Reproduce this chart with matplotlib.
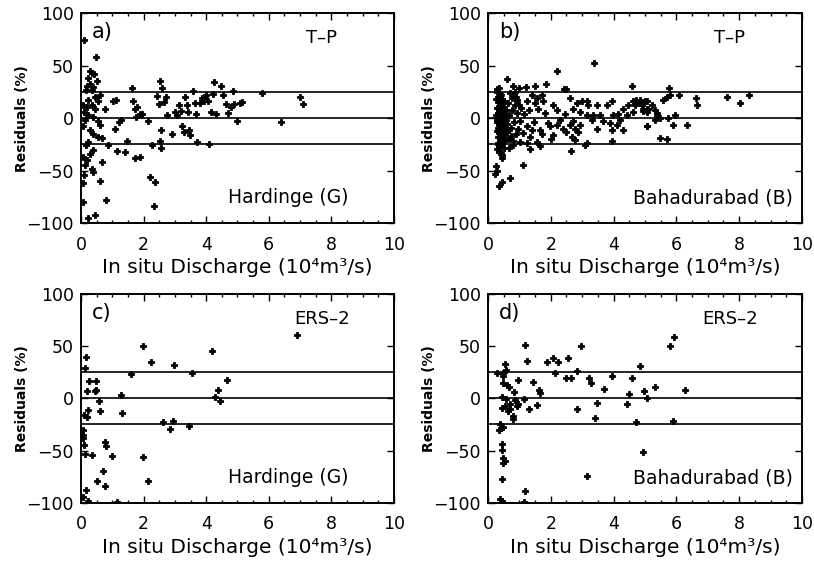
import matplotlib
matplotlib.use('Agg')
import matplotlib.pyplot as plt
from matplotlib.ticker import MultipleLocator

# ---- data: (in situ discharge [10^4 m3/s], residual [%]) ----
a_x = [0.10, 0.48, 0.29, 0.36, 0.43, 0.23, 0.52, 0.18, 0.29, 0.39, 0.16, 0.34, 0.61,
       0.45, 0.23, 0.55, 0.07, 0.18, 0.34, 0.45, 0.10, 0.23, 0.39, 0.13, 0.55, 0.61,
       0.07, 0.29, 0.39, 0.55, 0.66, 0.23, 0.16, 0.39, 0.29, 0.07, 0.18, 0.13, 0.34,
       0.39, 0.10, 0.66, 0.61, 0.07, 0.80, 0.07, 0.21, 0.45,
       0.76, 0.87, 1.03, 1.12, 1.09, 1.22, 1.28, 1.16, 1.41, 1.46, 1.62, 1.65, 1.72,
       1.80, 1.88, 1.75, 1.94, 1.72, 1.88, 2.15, 2.20, 2.36, 2.34, 2.26, 2.42, 2.49,
       2.52, 2.59, 2.55, 2.52, 2.55, 2.66, 2.72, 2.74, 2.90, 3.00, 3.06, 3.14, 3.18,
       3.22, 3.32, 3.29, 3.40, 3.45, 3.48, 3.43, 3.59, 3.64, 3.67, 3.70, 3.80, 3.86,
       3.93, 3.96, 4.01, 4.10, 4.07, 4.14, 4.23, 4.25, 4.31, 4.46, 4.55, 4.63, 4.70,
       4.78, 4.87, 4.89, 5.08, 5.13, 4.97, 5.77, 6.38, 7.00, 7.10]
a_y = [74, 58, 45, 43, 42, 38, 35, 31, 32, 30, 27, 27, 22,
       20, 17, 16, 12, 11, 12, 9, 6, 3, 1, -2, -3, -7,
       -8, -11, -15, -18, -19, -23, -26, -30, -34, -37, -40, -45, -48,
       -51, -54, -42, -60, -62, -78, -80, -95, -92,
       9, -26, 16, 17, -10, -4, -2, -31, -32, -22, 29, 16, 9,
       11, 4, 1, 4, -38, -37, -3, -56, -61, -84, -26, 21, 13,
       35, 29, -11, -22, -28, 15, 20, 3, -15, 6, 3, 12, 7,
       -8, 20, -13, 12, -11, -16, 6, 26, 14, 4, -23, 14, 19,
       16, 19, 22, -25, 16, 6, 23, 34, 4, 31, 22, 13, 5,
       11, 26, 13, 14, 15, -3, 23.5, -4, 20, 13]

b_x = [0.35, 0.59, 0.81, 0.99, 1.21, 1.50, 1.84, 2.19, 2.42, 2.50, 3.38, 4.58,
       1.13, 0.70, 0.30, 0.25, 0.36, 0.44, 0.22, 0.44, 0.36, 0.28,
       0.81, 0.91, 0.98, 1.23, 1.39, 1.55, 1.71, 1.76, 1.60, 2.08, 1.02, 1.23, 1.39,
       1.66, 1.71, 1.57, 1.66, 1.34, 1.23, 1.02, 0.81, 0.70, 0.59, 2.08, 1.97, 2.20,
       2.45, 2.61, 2.72, 2.82, 2.98, 3.14, 3.20, 2.39, 2.50, 2.61, 2.72, 2.77, 2.66,
       2.77, 2.88, 2.93, 2.63, 3.09, 3.14, 3.30, 3.46, 3.57, 3.67, 3.78, 3.89, 3.94,
       3.99, 3.94, 3.94, 4.15, 4.31, 4.42, 4.31, 4.47, 4.63, 4.68, 4.73, 4.84, 4.95,
       5.00, 5.05, 5.05, 5.21, 5.37, 5.10, 4.63, 4.20, 4.10, 3.46, 3.35, 3.14, 2.93,
       4.84, 5.05, 4.89, 4.95, 5.05, 5.32, 5.37, 5.05, 5.32, 5.48, 5.58, 5.69, 5.78,
       5.80, 6.09, 5.74, 5.96, 5.90, 6.35, 5.48, 5.69, 6.62, 6.66, 7.62, 8.02, 8.32,
       0.30, 0.35, 0.40, 0.45, 0.33, 0.38, 0.42, 0.50, 0.28, 0.36, 0.44, 0.52, 0.31,
       0.39, 0.47, 0.55, 0.34, 0.41, 0.49, 0.57, 0.30, 0.37, 0.45, 0.53, 0.32, 0.40,
       0.48, 0.56, 0.35, 0.43, 0.51, 0.60, 0.33, 0.41, 0.47, 0.38, 0.45, 0.54, 0.36,
       0.42, 0.50, 0.40, 0.46, 0.30, 0.27, 0.26, 0.28, 0.32, 0.58, 0.62, 0.65, 0.68,
       0.72, 0.75, 0.78, 0.82, 0.86, 0.88, 0.92, 0.95, 0.70, 0.63, 0.66, 0.74, 0.80,
       0.85, 0.90, 1.05, 1.10, 1.15, 1.30, 1.45, 1.50, 1.35, 1.80, 1.90, 2.00, 2.20,
       2.30, 0.31, 0.37, 0.43, 0.29, 0.34, 0.39, 0.46, 0.52, 0.33, 0.38, 0.44, 0.49]
b_y = [29, 37, 31, 29, 30, 31, 32, 45, 28, 28, 52, 31,
       -45, -57, -50, -46, -65, -61, -53, -38, -32, -29,
       22, 17, 12, 16, 22, 19, 22, 16, 9, 12, -3, -8, -11,
       -11, -15, -23, -27, -29, -24, -23, -26, -19, -13, -16, -8, -7,
       4, 19, 9, 14, 16, 16, 12, -10, -13, -7, -3, -10, -18,
       -21, -13, -7, -31, -26, -24, -2, 12, 3, -3, 12, -5, 16,
       3, -11, -22, 4, 9, 3, -11, 12, 16, 12, 17, 14, 9,
       16, 6, -8, 12, 3, 9, 6, -2, -7, -10, 3, 3, 6,
       17, 16, 12, 7, 9, 8, 5, -8, -2, 0, 17, 20, 29,
       22, 22, 0, 3, -7, -7, -19, -20, 19, 12, 20, 14, 22,
       25, 20, 22, 18, 15, 12, 14, 16, 10, 8, 9, 11, 5,
       4, 6, 3, 1, -1, 0, -2, -4, -5, -6, -4, -9, -10,
       -8, -11, -14, -13, -15, -13, -18, -19, -17, -22, -24, -21, -27,
       -26, -28, -33, -35, 28, 18, 3, -12, -24, 8, -6, 14, 3,
       -9, 19, 8, -4, 12, -15, 5, -10, 24, -20, -28, -17, -22,
       25, 20, 10, -14, 4, 8, -4, 14, -18, 5, -5, -20, 8,
       -2, 20, 17, 10, -2, -7, -15, 2, -20, -25, 23, -16, -3]

c_x = [0.15, 0.13, 0.27, 0.47, 0.20, 0.45, 0.48, 0.59, 0.23, 0.61, 0.10, 0.20,
       0.07, 0.05, 0.07, 0.10, 0.13, 0.34, 0.77, 0.79, 0.70, 0.50, 0.77, 0.16,
       0.05, 0.23, 1.14, 0.98, 1.27, 1.30, 1.59, 1.99, 1.99, 2.14, 2.24, 2.61,
       2.84, 2.93, 2.98, 3.45, 3.55, 4.17, 4.28, 4.37, 4.44, 4.68, 6.91]
c_y = [40, 29, 17, 17, 7, 7, 8, -3, -11, -12, -16, -18,
       -30, -35, -38, -45, -53, -54, -42, -46, -70, -79, -84, -88,
       -94, -98, -99, -55, 3, -14, 23, 50, -56, -79, 35, -23,
       -29, -22, 32, -26, 24, 45, 1, 8, -3, 18, 61]

d_x = [0.30, 0.47, 0.54, 0.57, 0.49, 0.49, 0.59, 0.68, 0.46, 0.57, 0.44, 0.54,
       0.63, 0.70, 0.79, 0.79, 0.70, 0.83, 0.86, 0.91, 0.97, 0.97, 1.15, 1.18,
       1.23, 1.31, 1.42, 1.57, 1.63, 1.66, 1.89, 2.08, 2.13, 2.23, 2.48, 2.54,
       2.63, 2.82, 2.84, 2.95, 3.16, 3.23, 3.27, 3.41, 3.46, 3.69, 3.94, 4.42,
       4.50, 4.59, 4.71, 4.84, 4.95, 4.98, 5.07, 5.32, 0.38, 0.41, 0.36, 0.47,
       0.44, 0.44, 0.49, 0.47, 0.54, 0.44, 0.38, 0.44, 1.18, 1.15, 5.80, 5.92,
       5.88, 6.26]
d_y = [24, 24, 33, 27, 21, 15, 13, 11, 1, -1, -9, -7,
       -12, -10, -17, -20, -5, 6, -2, -7, -5, 18, -1, 51,
       36, -10, 16, -6, 8, 5, 35, 39, 24, 35, 19, 39,
       19, 26, -10, 50, -74, 19, 15, -19, -4, 9, 21, -5,
       4, 19, -23, 31, -51, 7, 0, 11, -25, -28, -30, -27,
       -44, -49, -57, -62, -60, -77, -96, -98, -89, -99, 50, 59,
       -22, 8]

panels = [
    (a_x, a_y, 'a)', 'T\u2013P', 'Hardinge (G)', [0.0995, 0.605, 0.3845, 0.372]),
    (b_x, b_y, 'b)', 'T\u2013P', 'Bahadurabad (B)', [0.5995, 0.605, 0.3857, 0.372]),
    (c_x, c_y, 'c)', 'ERS\u20132', 'Hardinge (G)', [0.0995, 0.110, 0.3845, 0.370]),
    (d_x, d_y, 'd)', 'ERS\u20132', 'Bahadurabad (B)', [0.5995, 0.110, 0.3857, 0.370]),
]

fig = plt.figure(figsize=(8.14, 5.65), dpi=100)
plt.rcParams['font.family'] = 'DejaVu Sans'

for x, y, tag, sensor, station, pos in panels:
    ax = fig.add_axes(pos)
    ax.plot(x, y, 'P', color='black', markersize=5, markeredgewidth=0.6)
    for h in (-25, 0, 25):
        ax.axhline(h, color='black', linewidth=1.2)
    ax.set_xlim(0, 10)
    ax.set_ylim(-100, 100)
    ax.xaxis.set_major_locator(MultipleLocator(2))
    ax.xaxis.set_minor_locator(MultipleLocator(0.5))
    ax.yaxis.set_major_locator(MultipleLocator(50))
    ax.tick_params(which='both', direction='in', top=True, right=True,
                   width=1.0, labelsize=12.5)
    ax.tick_params(which='major', length=5)
    ax.tick_params(which='minor', length=2.5)
    ax.tick_params(axis='x', pad=9)
    ax.tick_params(axis='y', pad=5)
    for s in ax.spines.values():
        s.set_linewidth(1.4)
    ax.set_xlabel('In situ Discharge (10\u2074m\u00b3/s)', fontsize=14.5, labelpad=3)
    ax.set_ylabel('Residuals (%)', fontsize=10, fontweight='bold', labelpad=-2)
    ax.text(0.035, 0.91, tag, transform=ax.transAxes, fontsize=15,
            ha='left', va='center')
    ax.text(0.77, 0.88, sensor, transform=ax.transAxes, fontsize=13,
            ha='center', va='center')
    right = 0.855 if 'Hardinge' in station else 0.972
    ax.text(right, 0.12, station, transform=ax.transAxes, fontsize=13.5,
            ha='right', va='center')

fig.savefig('out.png', dpi=100, facecolor='white')
